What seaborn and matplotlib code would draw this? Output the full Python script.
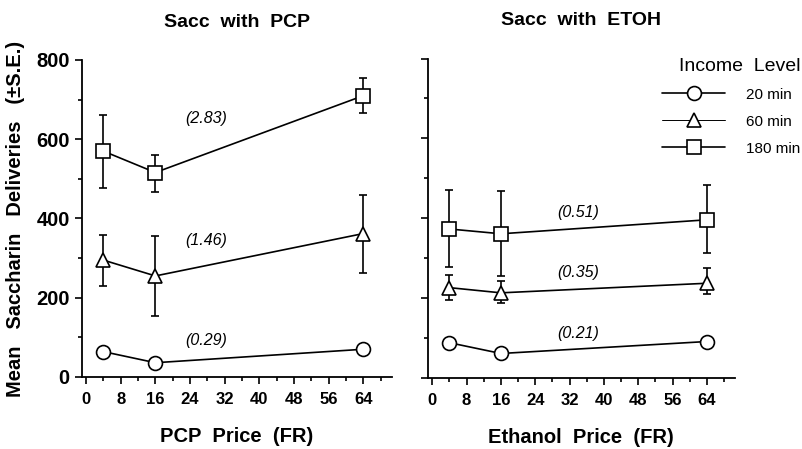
"""
Saccharin deliveries vs PCP / ethanol price at three income levels
"""

import matplotlib

matplotlib.use("Agg")
import matplotlib.pyplot as plt
import numpy as np
import pandas as pd
import seaborn as sns
from matplotlib.lines import Line2D
from matplotlib.ticker import MultipleLocator

# data
prices = [4, 16, 64]
income_levels = ["20 min", "60 min", "180 min"]

pcp_mean = {
    "20 min": [64, 36, 70],
    "60 min": [295, 255, 362],
    "180 min": [570, 516, 710],
}
pcp_se_up = {
    "20 min": [0, 0, 0],
    "60 min": [63, 100, 98],
    "180 min": [90, 44, 44],
}
pcp_se_down = {
    "20 min": [0, 0, 0],
    "60 min": [65, 100, 100],
    "180 min": [92, 48, 45],
}
pcp_slopes = ["(0.29)", "(1.46)", "(2.83)"]

etoh_mean = {
    "20 min": [88, 61, 91],
    "60 min": [226, 213, 237],
    "180 min": [373, 361, 396],
}
etoh_se_up = {
    "20 min": [0, 0, 0],
    "60 min": [31, 29, 38],
    "180 min": [98, 106, 86],
}
etoh_se_down = {
    "20 min": [0, 0, 0],
    "60 min": [32, 25, 28],
    "180 min": [96, 107, 83],
}
etoh_slopes = ["(0.21)", "(0.35)", "(0.51)"]

markers = {"20 min": "o", "60 min": "^", "180 min": "s"}
marker_sizes = {"20 min": 10, "60 min": 10.5, "180 min": 10}
legend_widths = {"20 min": 1.2, "60 min": 0.7, "180 min": 1.2}


def to_frame(means):
    rows = []
    for level in income_levels:
        for p, m in zip(prices, means[level]):
            rows.append({"price": p, "mean": m, "income": level})
    return pd.DataFrame(rows)


def draw_panel(ax, means, se_up, se_down, slopes, slope_pos, title, xlabel):
    df = to_frame(means)
    for level in income_levels:
        sub = df[df["income"] == level]
        up = np.array(se_up[level])
        down = np.array(se_down[level])
        if up.any():
            ax.errorbar(
                sub["price"], sub["mean"], yerr=[down, up], fmt="none",
                ecolor="black", elinewidth=1.2, capsize=3, capthick=1.2, zorder=2,
            )
        sns.lineplot(
            data=sub, x="price", y="mean", ax=ax, color="black", linewidth=1.2,
            marker=markers[level], markersize=marker_sizes[level],
            markerfacecolor="white", markeredgecolor="black", markeredgewidth=1.2,
            legend=False, zorder=3,
        )

    for txt, (x, y) in zip(slopes, slope_pos):
        ax.text(x, y, txt, fontsize=11.5, style="italic", ha="center", va="center")

    ax.set_xlim(-1, 70.5)
    ax.set_ylim(0, 800)
    ax.xaxis.set_major_locator(MultipleLocator(8))
    ax.xaxis.set_minor_locator(MultipleLocator(4))
    ax.yaxis.set_major_locator(MultipleLocator(200))
    ax.yaxis.set_minor_locator(MultipleLocator(100))
    ax.tick_params(which="major", length=5, width=1.2, labelsize=12)
    ax.tick_params(which="minor", length=3, width=1.2)
    ax.tick_params(axis="x", pad=6)
    for lab in ax.get_xticklabels():
        lab.set_fontweight("bold")
        lab.set_fontsize(12)
    for lab in ax.get_yticklabels():
        lab.set_fontweight("bold")
        lab.set_fontsize(14.5)
    ax.set_title(title, fontsize=14, fontweight="bold", pad=24)
    ax.set_xlabel(xlabel, fontsize=14.5, fontweight="bold", labelpad=14)
    ax.set_ylabel("")
    sns.despine(ax=ax)
    for side in ["left", "bottom"]:
        ax.spines[side].set_linewidth(1.3)
        ax.spines[side].set_color("black")


sns.set_theme(style="ticks")
plt.rcParams["font.family"] = ["Liberation Sans", "DejaVu Sans"]
plt.rcParams["text.color"] = "black"
plt.rcParams["axes.labelcolor"] = "black"
plt.rcParams["xtick.color"] = "black"
plt.rcParams["ytick.color"] = "black"

fig = plt.figure(figsize=(8.03, 4.49), dpi=100)
ax1 = fig.add_axes([0.1017, 0.1604, 0.386, 0.706])
ax2 = fig.add_axes([0.533, 0.1585, 0.382, 0.711])

draw_panel(
    ax1, pcp_mean, pcp_se_up, pcp_se_down, pcp_slopes,
    [(27.8, 93), (27.8, 345), (27.8, 652)],
    "Sacc  with  PCP", "PCP  Price  (FR)",
)
ax1.set_ylabel("Mean   Saccharin   Deliveries   (\u00b1S.E.)", fontsize=14.5,
               fontweight="bold", labelpad=8)

draw_panel(
    ax2, etoh_mean, etoh_se_up, etoh_se_down, etoh_slopes,
    [(34, 112), (34, 265), (34, 415)],
    "Sacc  with  ETOH", "Ethanol  Price  (FR)",
)
ax2.tick_params(axis="y", labelleft=False)

handles = [
    Line2D([], [], color="black", linewidth=legend_widths[level],
           marker=markers[level], markersize=marker_sizes[level],
           markerfacecolor="white", markeredgecolor="black", markeredgewidth=1.2)
    for level in income_levels
]
leg = ax2.legend(
    handles, income_levels, title="Income  Level", frameon=False, fontsize=11,
    title_fontsize=14, handlelength=4.1, handletextpad=1.4, labelspacing=0.85,
    loc="upper right", bbox_to_anchor=(0.999, 0.875), bbox_transform=fig.transFigure,
    borderpad=0.1, borderaxespad=0,
)
leg._legend_box.align = "right"

fig.savefig("out.png", dpi=100)
